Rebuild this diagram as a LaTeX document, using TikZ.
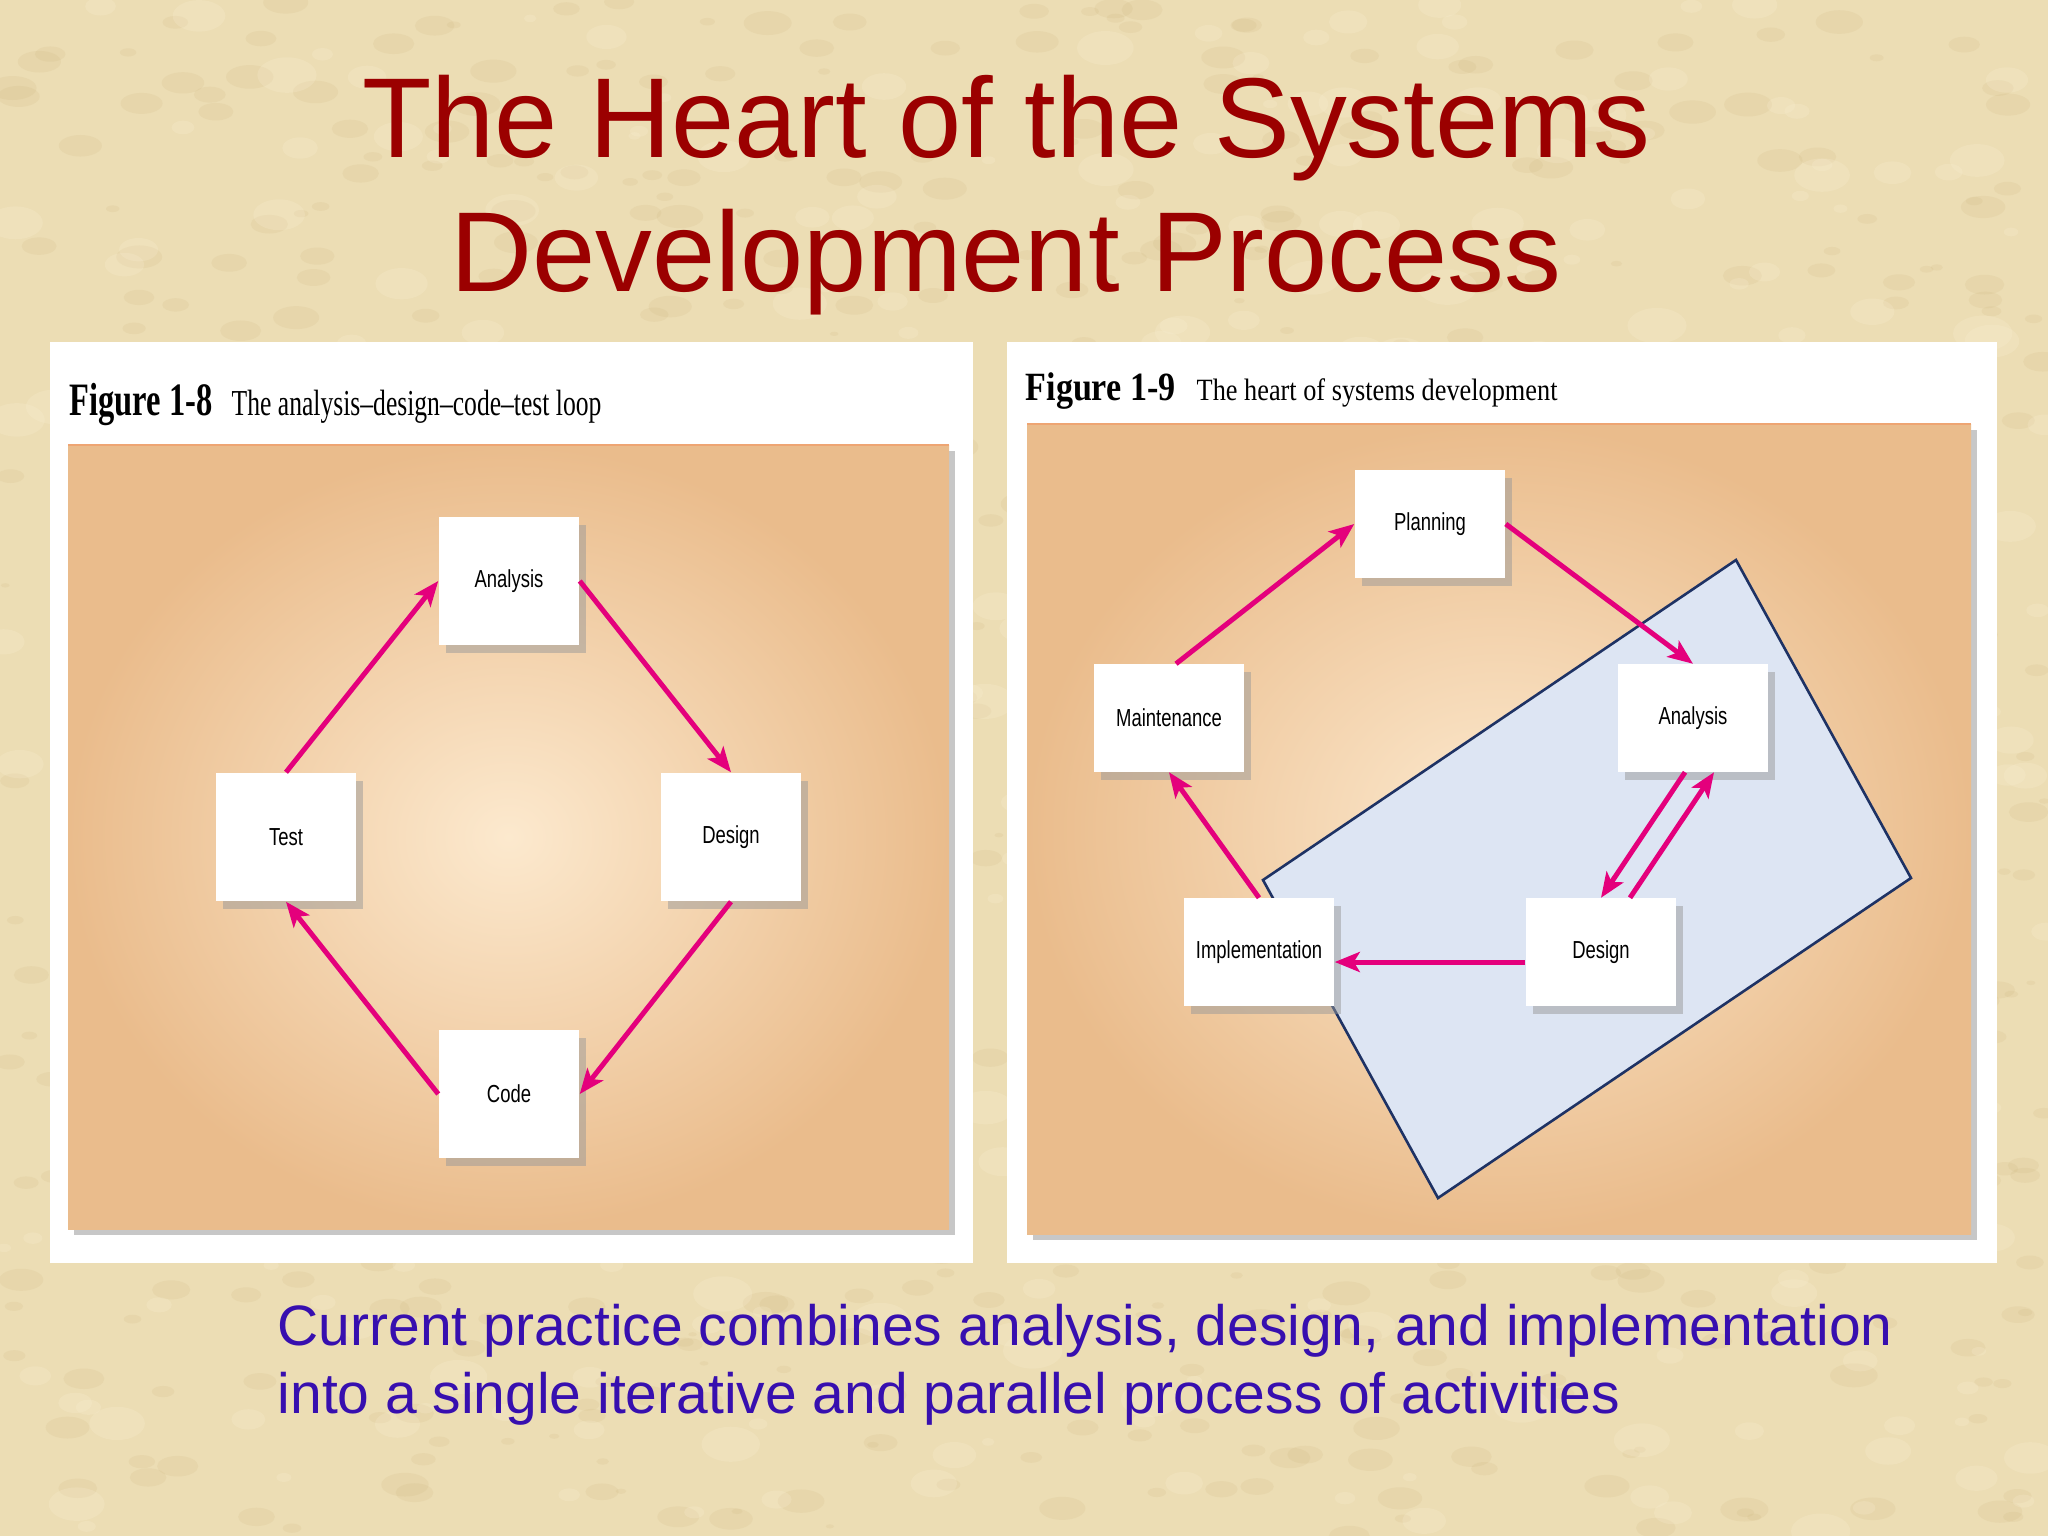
\documentclass[tikz,border=0pt]{standalone}
\usepackage{fontspec}
\setmainfont{Liberation Sans}
\newfontfamily\capfontl[FakeStretch=0.7]{Liberation Serif}
\newfontfamily\capfontr[FakeStretch=0.85]{Liberation Serif}
\newfontfamily\boxfont[FakeStretch=0.75]{Liberation Sans}
\usetikzlibrary{arrows.meta,shadows}
\definecolor{parch}{RGB}{236,221,180}
\definecolor{parchdark}{RGB}{205,180,125}
\definecolor{parchlight}{RGB}{250,240,212}
\definecolor{titlered}{RGB}{155,0,0}
\definecolor{noteblue}{RGB}{55,15,175}
\definecolor{panelin}{RGB}{252,233,206}
\definecolor{panelout}{RGB}{234,188,140}
\definecolor{panelrim}{RGB}{238,165,115}
\definecolor{flowpink}{RGB}{228,0,124}
\definecolor{scopefill}{RGB}{221,229,243}
\definecolor{scopeline}{RGB}{30,50,100}
\tikzset{
  loopbox/.style={fill=white, minimum width=1.40cm, minimum height=1.28cm, inner sep=0pt,
    font=\boxfont\fontsize{7}{8}\selectfont,
    drop shadow={shadow xshift=0.07cm, shadow yshift=-0.08cm, fill=black!40, opacity=0.5}},
  heartbox/.style={loopbox, minimum width=1.50cm, minimum height=1.07cm},
  flow/.style={draw=flowpink, line width=0.05cm, -{Stealth[length=0.25cm, width=0.2cm, inset=0.06cm]}},
  capline/.style={anchor=base west, inner sep=0pt}
}
\begin{document}
\begin{tikzpicture}[x=0.01cm, y=-0.01cm]
\useasboundingbox (0,0) rectangle (2048,1536);
\fill[parch] (0,0) rectangle (2048,1536);
\pgfmathsetseed{42}
\foreach \k in {1,...,700}{
  \pgfmathsetmacro{\bx}{rnd*2048}
  \pgfmathsetmacro{\by}{rnd*1536}
  \pgfmathsetmacro{\br}{4+rnd*20}
  \fill[parchdark, opacity=0.16] (\bx,\by) ellipse[x radius=\br, y radius=0.5*\br];
}
\foreach \k in {1,...,400}{
  \pgfmathsetmacro{\bx}{rnd*2048}
  \pgfmathsetmacro{\by}{rnd*1536}
  \pgfmathsetmacro{\br}{6+rnd*24}
  \fill[parchlight, opacity=0.22] (\bx,\by) ellipse[x radius=\br, y radius=0.6*\br];
}

\node[anchor=base, text=titlered, font=\fontsize{32.3}{38}\selectfont] (title1) at (1006,157) {The Heart of the Systems};
\node[anchor=base, text=titlered, font=\fontsize{32.3}{38}\selectfont] (title2) at (1006,291) {Development Process};

\fill[white] (50,342) rectangle (973,1263);
\fill[white] (1007,342) rectangle (1997,1263);
\node[capline, font=\capfontl\bfseries\fontsize{13.2}{15}\selectfont] (fig8) at (69,415) {Figure 1-8};
\node[capline, font=\capfontl\fontsize{10.4}{12}\selectfont] (cap8) at (231,415) {The analysis–design–code–test loop};
\node[capline, font=\capfontr\bfseries\fontsize{11.4}{13}\selectfont] (fig9) at (1025,400) {Figure 1-9};
\node[capline, font=\capfontr\fontsize{8.8}{10}\selectfont] (cap9) at (1196,400) {The heart of systems development};

\fill[black!22] (74,451) rectangle (955,1235);
\shade[inner color=panelin, outer color=panelout] (68,445) rectangle (949,1229);
\draw[panelrim, line width=0.02cm] (68,445) -- (949,445);
\fill[black!22] (1033,430) rectangle (1977,1240);
\shade[inner color=panelin, outer color=panelout] (1027,424) rectangle (1971,1234);
\draw[panelrim, line width=0.02cm] (1027,424) -- (1971,424);
\draw[fill=scopefill, draw=scopeline, line width=0.026cm] (1736,560) -- (1911,878) -- (1438,1198) -- (1263,880) -- cycle;

\node[loopbox] (analysis) at (509,581) {Analysis};
\node[loopbox] (test) at (286,837) {Test};
\node[loopbox] (design) at (731,837) {Design};
\node[loopbox] (code) at (509,1094) {Code};
\draw[flow] (test.north) -- (analysis.west);
\draw[flow] (analysis.east) -- (design.north);
\draw[flow] (design.south) -- (code.east);
\draw[flow] (code.west) -- (test.south);

\node[heartbox] (planning) at (1430,524) {Planning};
\node[heartbox] (maint) at (1169,718) {Maintenance};
\node[heartbox] (analysis9) at (1693,718) {Analysis};
\node[heartbox] (impl) at (1259,952) {Implementation};
\node[heartbox] (design9) at (1601,952) {Design};
\draw[flow] ([xshift=0.07cm]maint.north) -- (planning.west);
\draw[flow] (planning.east) -- (analysis9.north);
\draw[flow] ([xshift=-0.08cm]analysis9.south) -- (design9.north);
\draw[flow] ([xshift=0.29cm]design9.north) -- ([xshift=0.21cm]analysis9.south);
\draw[flow] ([yshift=-0.1cm]design9.west) -- ([yshift=-0.1cm]impl.east);
\draw[flow] (impl.north) -- (maint.south);

\node[capline, text=noteblue, font=\fontsize{16.2}{19}\selectfont] (note1) at (277,1345) {Current practice combines analysis, design, and implementation};
\node[capline, text=noteblue, font=\fontsize{16.2}{19}\selectfont] (note2) at (277,1413) {into a single iterative and parallel process of activities};
\end{tikzpicture}
\end{document}
